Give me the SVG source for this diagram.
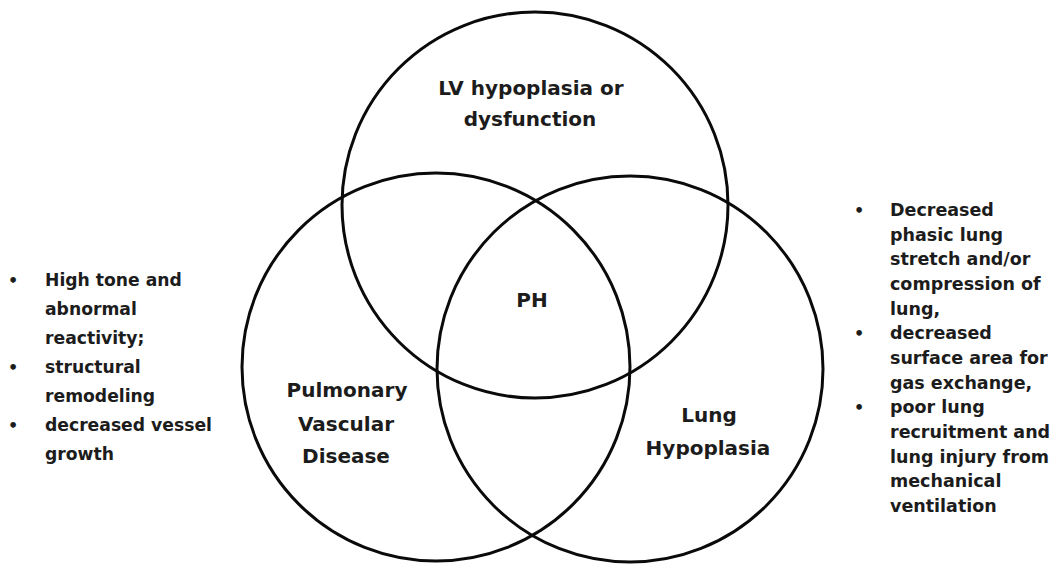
<svg xmlns="http://www.w3.org/2000/svg" width="1051" height="566" viewBox="0 0 1051 566">
<style>
.c{fill:none;stroke:#0a0a0a;stroke-width:3}
.lbl{font-family:"DejaVu Sans","Liberation Sans",sans-serif;font-weight:bold;font-size:20px;fill:#1c1c1c;text-anchor:middle}
.bl{font-family:"DejaVu Sans","Liberation Sans",sans-serif;font-weight:bold;font-size:17.2px;fill:#1c1c1c}
.br{font-family:"DejaVu Sans","Liberation Sans",sans-serif;font-weight:bold;font-size:17.5px;fill:#1c1c1c}
.dot{font-family:"DejaVu Sans","Liberation Sans",sans-serif;font-weight:bold;font-size:16px;fill:#1c1c1c;text-anchor:middle}
</style>
<rect width="1051" height="566" fill="#ffffff"/>
<g id="lv">
<circle class="c" cx="535" cy="205" r="193"/>
<text class="lbl" x="531" y="95">LV hypoplasia or</text>
<text class="lbl" x="530" y="126">dysfunction</text>
</g>
<g id="pvd">
<circle class="c" cx="436" cy="367" r="194"/>
<text class="lbl" x="347" y="397">Pulmonary</text>
<text class="lbl" x="346" y="431">Vascular</text>
<text class="lbl" x="346" y="463">Disease</text>
</g>
<g id="lung">
<circle class="c" cx="630" cy="369" r="193"/>
<text class="lbl" x="709" y="422">Lung</text>
<text class="lbl" x="708" y="455">Hypoplasia</text>
</g>
<g id="ph">
<text class="lbl" x="532" y="307">PH</text>
</g>
<g id="left-notes">
<text class="dot" x="13" y="286">•</text>
<text class="dot" x="13" y="373">•</text>
<text class="dot" x="13" y="431">•</text>
<text class="bl" x="45" y="286">High tone and</text>
<text class="bl" x="45" y="315">abnormal</text>
<text class="bl" x="45" y="344">reactivity;</text>
<text class="bl" x="45" y="373">structural</text>
<text class="bl" x="45" y="402">remodeling</text>
<text class="bl" x="45" y="431">decreased vessel</text>
<text class="bl" x="45" y="460">growth</text>
</g>
<g id="right-notes">
<text class="dot" x="859" y="216">•</text>
<text class="dot" x="859" y="339">•</text>
<text class="dot" x="859" y="413">•</text>
<text class="br" x="890" y="216">Decreased</text>
<text class="br" x="890" y="241">phasic lung</text>
<text class="br" x="890" y="265">stretch and/or</text>
<text class="br" x="890" y="290">compression of</text>
<text class="br" x="890" y="315">lung,</text>
<text class="br" x="890" y="339">decreased</text>
<text class="br" x="890" y="364">surface area for</text>
<text class="br" x="890" y="389">gas exchange,</text>
<text class="br" x="890" y="413">poor lung</text>
<text class="br" x="890" y="438">recruitment and</text>
<text class="br" x="890" y="463">lung injury from</text>
<text class="br" x="890" y="487">mechanical</text>
<text class="br" x="890" y="512">ventilation</text>
</g>
<g id="connectors"></g>
</svg>
